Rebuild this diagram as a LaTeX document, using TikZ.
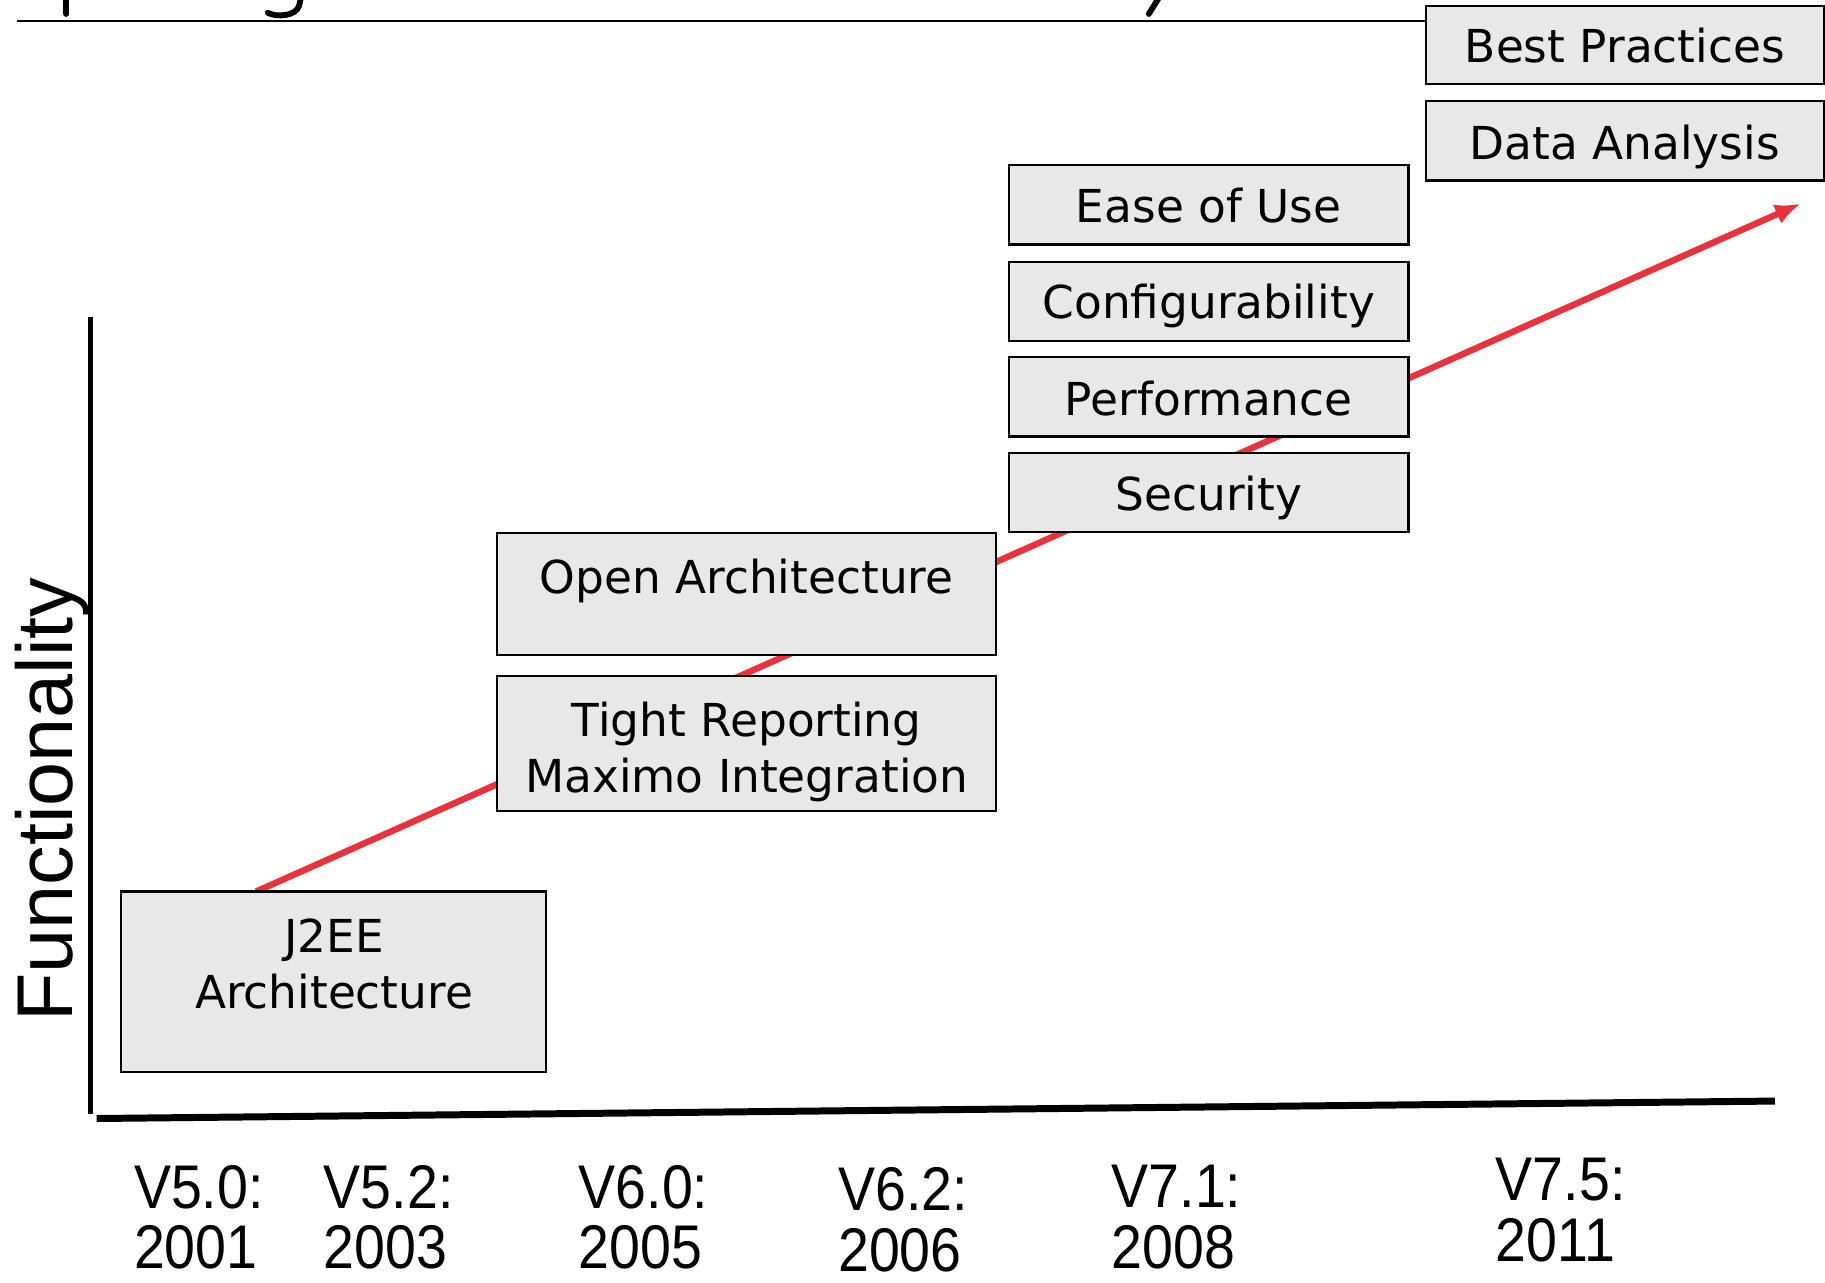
\documentclass[tikz,border=0pt]{standalone}
\usepackage{fontspec}
\setmainfont{DejaVu Sans}
\newfontfamily\labelfont{Liberation Sans}
\usetikzlibrary{arrows.meta}
\definecolor{trendred}{HTML}{E8323C}
\definecolor{boxgray}{HTML}{E8E8E8}
\newcommand{\condtext}[1]{\scalebox{0.9}[1]{#1}}
\begin{document}
\begin{tikzpicture}[x=1pt,y=-1pt,
  featbox/.style={draw=black, line width=2pt, fill=boxgray, inner sep=0pt, outer sep=0pt, anchor=north west},
  feattext/.style={font=\fontsize{39}{48}\selectfont, inner sep=0pt, align=center},
  yearlabel/.style={font=\labelfont\fontsize{53}{52}\selectfont, inner sep=0pt, align=left, anchor=north west},
  axisline/.style={draw=black, line cap=butt},
  titlefrag/.style={draw=black, line width=5pt, line cap=round}
]
\useasboundingbox (0,0) rectangle (1568,1102);

% clipped title fragments and rule
\draw[titlefrag] (57,-4) -- (57,12);
\draw[titlefrag] (259,-4) -- (257,5) .. controls (254,14) and (238,15) .. (230,11);
\draw[titlefrag] (997,-4) -- (987,12);
\draw[line width=2pt] (15,18) -- (1226,18);

% trend line (behind boxes)
\coordinate (trendstart) at (220,766);
\coordinate (trendend) at (1547,175);
\draw[trendred, line width=5.5pt, -{Latex[length=22pt,width=18pt]}] (trendstart) -- (trendend);

% axes
\draw[axisline, line width=4pt] (78,272) -- (78,957);
\draw[axisline, line width=6pt] (83,961) -- (1525,946);

% feature boxes
\node[featbox, minimum width=365pt, minimum height=155pt] (j2ee) at (104,766) {};
\node[featbox, minimum width=429pt, minimum height=105pt] (openarch) at (427,458) {};
\node[featbox, minimum width=429pt, minimum height=116pt] (tight) at (427,581) {};
\node[featbox, minimum width=343pt, minimum height=68pt] (security) at (867,389) {};
\node[featbox, minimum width=343pt, minimum height=68pt] (perf) at (867,307) {};
\node[featbox, minimum width=343pt, minimum height=68pt] (config) at (867,225) {};
\node[featbox, minimum width=343pt, minimum height=68pt] (ease) at (867,142) {};
\node[featbox, minimum width=342pt, minimum height=68pt] (data) at (1225,87) {};
\node[featbox, minimum width=342pt, minimum height=67pt] (best) at (1225,5) {};

% box texts
\node[feattext, anchor=north] (j2eet) at (287,789) {J2EE\\Architecture};
\node[feattext, anchor=base] (openarcht) at (641.5,510) {Open Architecture};
\node[feattext, anchor=north] (tightt) at (641.5,603) {Tight Reporting\\Maximo Integration};
\node[feattext, anchor=base] (securityt) at (1038.5,439) {Security};
\node[feattext, anchor=base] (perft) at (1038.5,357) {Performance};
\node[feattext, anchor=base] (configt) at (1038.5,274) {Configurability};
\node[feattext, anchor=base] (easet) at (1038.5,191) {Ease of Use};
\node[feattext, anchor=base] (datat) at (1396,137) {Data Analysis};
\node[feattext, anchor=base] (bestt) at (1396,54) {Best Practices};

% axis label
\node[rotate=90, font=\labelfont\fontsize{68}{68}\selectfont, inner sep=0pt, anchor=base west] (func) at (62,878) {Functionality};

% version labels
\node[yearlabel] (v50) at (115,1001) {\condtext{V5.0:}\\\condtext{2001}};
\node[yearlabel] (v52) at (278,1001) {\condtext{V5.2:}\\\condtext{2003}};
\node[yearlabel] (v60) at (497,1001) {\condtext{V6.0:}\\\condtext{2005}};
\node[yearlabel] (v62) at (720,1003) {\condtext{V6.2:}\\\condtext{2006}};
\node[yearlabel] (v71) at (955,1001) {\condtext{V7.1:}\\\condtext{2008}};
\node[yearlabel] (v75) at (1285,995) {\condtext{V7.5:}\\\condtext{2011}};
\end{tikzpicture}
\end{document}
